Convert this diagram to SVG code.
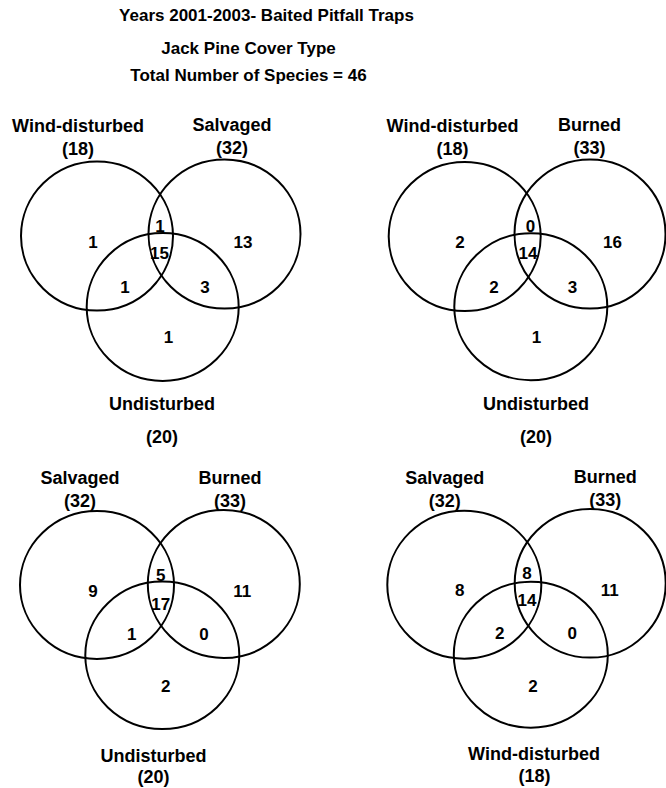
<svg xmlns="http://www.w3.org/2000/svg" width="666" height="788" viewBox="0 0 666 788">
<style>
text{font-family:"Liberation Sans",Arial,sans-serif;font-weight:bold;fill:#000;text-anchor:middle}
.t{font-size:17px}
.l{font-size:18px}
.n{font-size:17px}
ellipse{fill:none;stroke:#000;stroke-width:2}
</style>
<rect width="666" height="788" fill="#fff"/>
<g id="title">
<text class="t" x="266.5" y="21">Years 2001-2003- Baited Pitfall Traps</text>
<text class="t" x="248.5" y="54">Jack Pine Cover Type</text>
<text class="t" x="248.5" y="81">Total Number of Species = 46</text>
</g>
<g id="venn1">
<g id="v1-wind"><ellipse cx="97" cy="236" rx="76" ry="74.5"/><text class="l" x="78" y="132">Wind-disturbed</text><text class="l" x="78" y="155">(18)</text></g>
<g id="v1-salvaged"><ellipse cx="224.5" cy="234" rx="76" ry="74.5"/><text class="l" x="232" y="131">Salvaged</text><text class="l" x="232" y="154">(32)</text></g>
<g id="v1-undisturbed"><ellipse cx="162.7" cy="307" rx="76" ry="74"/><text class="l" x="162" y="410">Undisturbed</text><text class="l" x="162" y="443">(20)</text></g>
<g id="v1-counts">
<text class="n" x="93" y="248">1</text><text class="n" x="160" y="232">1</text><text class="n" x="159.5" y="259">15</text><text class="n" x="243" y="248">13</text>
<text class="n" x="125" y="293">1</text><text class="n" x="205" y="293">3</text><text class="n" x="168.5" y="343">1</text>
</g>
</g>
<g id="venn2">
<g id="v2-wind"><ellipse cx="464.7" cy="236.5" rx="76" ry="74.5"/><text class="l" x="452.5" y="132">Wind-disturbed</text><text class="l" x="452.5" y="155">(18)</text></g>
<g id="v2-burned"><ellipse cx="590" cy="234" rx="75.5" ry="74.5"/><text class="l" x="589.5" y="131">Burned</text><text class="l" x="589.5" y="154">(33)</text></g>
<g id="v2-undisturbed"><ellipse cx="530.8" cy="306.7" rx="76.5" ry="73.5"/><text class="l" x="536" y="410">Undisturbed</text><text class="l" x="536" y="443">(20)</text></g>
<g id="v2-counts">
<text class="n" x="460" y="248">2</text><text class="n" x="530.5" y="232">0</text><text class="n" x="528" y="259">14</text><text class="n" x="612.5" y="248">16</text>
<text class="n" x="494" y="293">2</text><text class="n" x="572.5" y="293">3</text><text class="n" x="536.5" y="343">1</text>
</g>
</g>
<g id="venn3">
<g id="v3-salvaged"><ellipse cx="97" cy="585" rx="77" ry="74"/><text class="l" x="80" y="484">Salvaged</text><text class="l" x="80" y="507">(32)</text></g>
<g id="v3-burned"><ellipse cx="223.8" cy="584" rx="76" ry="74"/><text class="l" x="230" y="484">Burned</text><text class="l" x="230" y="507">(33)</text></g>
<g id="v3-undisturbed"><ellipse cx="162.3" cy="655.3" rx="77" ry="73.7"/><text class="l" x="153.5" y="762">Undisturbed</text><text class="l" x="153.5" y="783">(20)</text></g>
<g id="v3-counts">
<text class="n" x="93" y="597">9</text><text class="n" x="160.7" y="581">5</text><text class="n" x="160.7" y="610">17</text><text class="n" x="242.3" y="597">11</text>
<text class="n" x="131.7" y="640">1</text><text class="n" x="204" y="640">0</text><text class="n" x="165.7" y="692">2</text>
</g>
</g>
<g id="venn4">
<g id="v4-salvaged"><ellipse cx="464.3" cy="584.7" rx="77" ry="74"/><text class="l" x="444.7" y="484">Salvaged</text><text class="l" x="444.7" y="507">(32)</text></g>
<g id="v4-burned"><ellipse cx="590.2" cy="583.3" rx="75.5" ry="74.3"/><text class="l" x="605.3" y="483">Burned</text><text class="l" x="605.3" y="506">(33)</text></g>
<g id="v4-wind"><ellipse cx="530.8" cy="654.7" rx="77" ry="73"/><text class="l" x="534" y="760">Wind-disturbed</text><text class="l" x="534.5" y="782">(18)</text></g>
<g id="v4-counts">
<text class="n" x="459.7" y="596">8</text><text class="n" x="527" y="579">8</text><text class="n" x="527" y="606">14</text><text class="n" x="609.7" y="596">11</text>
<text class="n" x="499.7" y="639">2</text><text class="n" x="572.3" y="639">0</text><text class="n" x="533" y="692">2</text>
</g>
</g>
</svg>
